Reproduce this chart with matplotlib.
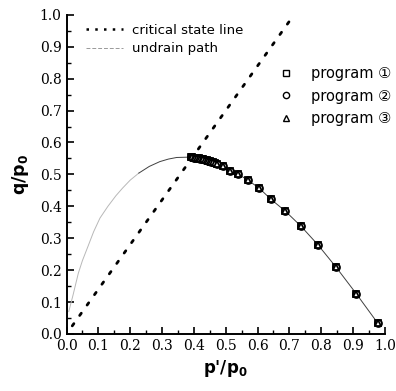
import numpy as np
import matplotlib
matplotlib.use('Agg')
import matplotlib.pyplot as plt
from matplotlib.lines import Line2D

# critical state line q = M p'
M = 1.40
p_csl = [0.018, 0.714]

# undrain path
p_path = [0.007, 0.02, 0.037, 0.05, 0.068, 0.085, 0.105, 0.13, 0.155, 0.176, 0.2, 0.227,
          0.26, 0.293, 0.32, 0.346, 0.382, 0.39, 0.42, 0.45, 0.474, 0.513, 0.539, 0.571,
          0.605, 0.642, 0.687, 0.736, 0.789, 0.846, 0.910, 0.978]
q_path = [0.07, 0.12, 0.19, 0.23, 0.276, 0.32, 0.363, 0.40, 0.433, 0.457, 0.482, 0.504,
          0.525, 0.540, 0.548, 0.553, 0.554, 0.553, 0.550, 0.543, 0.533, 0.512, 0.501, 0.481,
          0.457, 0.422, 0.385, 0.338, 0.280, 0.210, 0.126, 0.033]

# program results (the three programs overlap)
p_prog = [0.390, 0.395, 0.400, 0.405, 0.410, 0.415, 0.420, 0.425, 0.430, 0.435, 0.440,
          0.445, 0.450, 0.455, 0.460, 0.465, 0.474, 0.492, 0.513, 0.539, 0.571, 0.605,
          0.642, 0.687, 0.736, 0.789, 0.846, 0.910, 0.978]
q_prog = [0.553, 0.553, 0.552, 0.552, 0.551, 0.550, 0.549, 0.548, 0.547, 0.546, 0.545,
          0.543, 0.542, 0.540, 0.539, 0.537, 0.533, 0.525, 0.512, 0.501, 0.481, 0.457,
          0.422, 0.385, 0.338, 0.280, 0.210, 0.126, 0.033]
prog_labels = ['program \u2460', 'program \u2461', 'program \u2462']
prog_markers = ['s', 'o', '^']
tick_vals = [0.0, 0.1, 0.2, 0.3, 0.4, 0.5, 0.6, 0.7, 0.8, 0.9, 1.0]

plt.rcParams['mathtext.default'] = 'regular'
fig = plt.figure(figsize=(3.96, 3.91), dpi=100)
ax = fig.add_axes([0.168, 0.146, 0.804, 0.816])

p_path = np.array(p_path)
q_path = np.array(q_path)
light = p_path <= 0.23
dark = p_path >= 0.227
ax.plot(p_path[light], q_path[light], color='0.72', lw=0.7)
ax.plot(p_path[dark], q_path[dark], color='0.25', lw=0.7)

ax.plot(p_csl, [M * v for v in p_csl], color='black', lw=2.0, linestyle=(0, (1, 3.6)),
        dash_capstyle='round')

for mk in prog_markers:
    ax.plot(p_prog, q_prog, linestyle='none', marker=mk, markersize=5,
            markerfacecolor='white', markeredgecolor='black', markeredgewidth=1.3)

ax.set_xlim(0, 1.0)
ax.set_ylim(0, 1.0)
ax.set_xticks(tick_vals)
ax.set_yticks(tick_vals)
ax.set_xticks(np.arange(0.05, 1.0, 0.1), minor=True)
ax.set_yticks(np.arange(0.05, 1.0, 0.1), minor=True)
ax.set_xticklabels(['%.1f' % v for v in tick_vals])
ax.set_yticklabels(['%.1f' % v for v in tick_vals])
ax.tick_params(which='major', direction='in', length=5, width=1.2,
               labelsize=10, labelfontfamily='DejaVu Serif')
ax.tick_params(which='minor', direction='in', length=3, width=1.0)
for s in ['top', 'right']:
    ax.spines[s].set_visible(False)
for s in ['left', 'bottom']:
    ax.spines[s].set_linewidth(1.4)

ax.set_xlabel(r"p'/p$_0$", fontsize=12, fontweight='bold', family='DejaVu Sans', labelpad=4)
ax.set_ylabel(r"q/p$_0$", fontsize=12.5, fontweight='bold', family='DejaVu Sans', labelpad=6)

h1 = [Line2D([], [], color='black', lw=1.8, linestyle=(0, (1, 2.5))),
      Line2D([], [], color='0.6', lw=0.7, linestyle=(0, (4, 2)))]
leg1 = ax.legend(h1, ['critical state line', 'undrain path'], loc='upper left',
                 bbox_to_anchor=(0.023, 1.01), frameon=False, handlelength=2.8,
                 handletextpad=0.7, prop={'family': 'DejaVu Sans', 'size': 9.5},
                 labelspacing=0.45)
ax.add_artist(leg1)

h2 = [Line2D([], [], linestyle='none', marker=mk, markersize=4.5, markerfacecolor='white',
             markeredgecolor='black', markeredgewidth=1.0) for mk in prog_markers]
ax.legend(h2, prog_labels, loc='upper left', bbox_to_anchor=(0.625, 0.88), frameon=False,
          handlelength=1.0, handletextpad=1.2, labelspacing=0.5,
          prop={'family': ['DejaVu Sans', 'Noto Sans CJK JP'], 'size': 10.5})

fig.savefig('out.png', dpi=100)
